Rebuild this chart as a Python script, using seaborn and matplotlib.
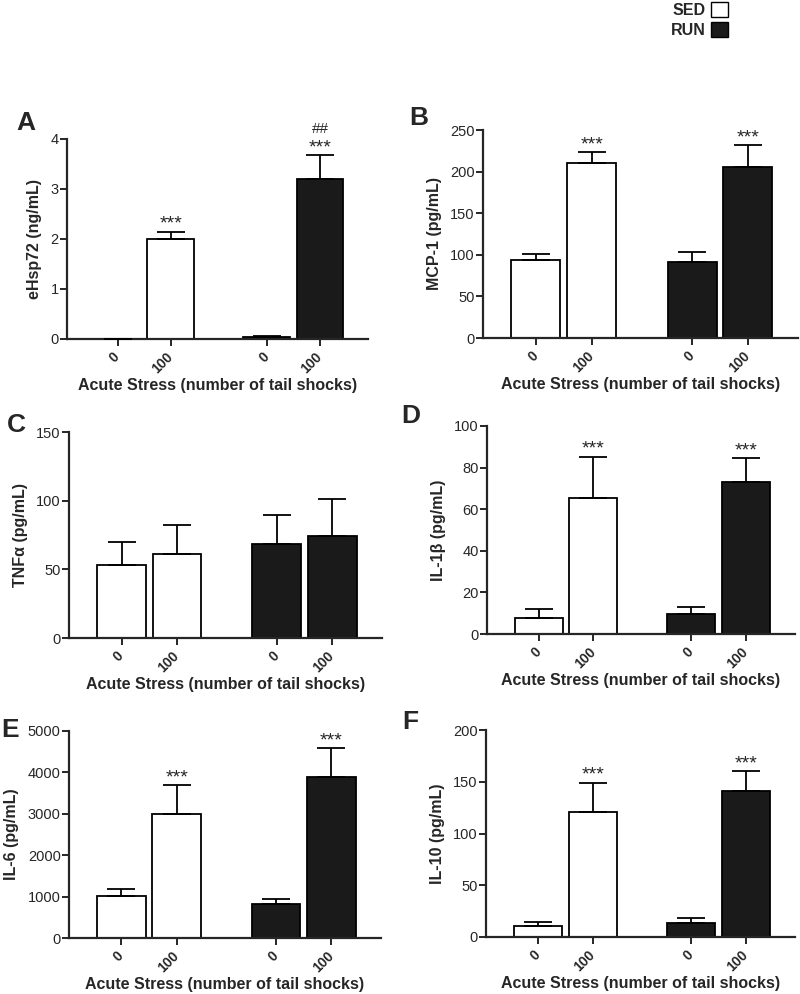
import numpy as np
import pandas as pd
import seaborn as sns
import matplotlib.pyplot as plt
from matplotlib.patches import Patch

sns.set_style("ticks")
plt.rcParams['font.family'] = ['Liberation Sans', 'DejaVu Sans']

# bar order: SED 0, SED 100, RUN 0, RUN 100
groups = ['SED', 'SED', 'RUN', 'RUN']
shock_labels = ['0', '100', '0', '100']
positions = [0, 1, 2.8, 3.8]

hsp72 = [0.01, 2.0, 0.04, 3.2]
hsp72_sem = [0.0, 0.15, 0.02, 0.48]
mcp1 = [93.5, 210, 91, 206]
mcp1_sem = [8, 13, 12.5, 25.5]
tnfa = [53, 61.5, 68.7, 74.3]
tnfa_sem = [17, 20.5, 20.5, 26.7]
il1b = [7.9, 65.2, 9.8, 73.2]
il1b_sem = [4.1, 20.1, 3.2, 11.6]
il6 = [1023, 2987, 829, 3889]
il6_sem = [169, 709, 113, 708]
il10 = [10.6, 120.6, 13.5, 141.5]
il10_sem = [4.2, 28.6, 4.5, 18.9]

stars_a = ['', '***', '', '***']
hash_a = ['', '', '', '##']
stars_b = ['', '***', '', '***']
stars_c = ['', '', '', '']
stars_d = ['', '***', '', '***']
stars_e = ['', '***', '', '***']
stars_f = ['', '***', '', '***']

palette = {'SED': 'white', 'RUN': '#1a1a1a'}

panels = [
    # letter, values, sem, ylabel, ymax, ystep, stars, hashes, axes rect (px), letter xy (px)
    ('A', hsp72, hsp72_sem, 'eHsp72 (ng/mL)', 4, 1, stars_a, hash_a, (67, 368, 139, 339), (16, 123)),
    ('B', mcp1, mcp1_sem, 'MCP-1 (pg/mL)', 250, 50, stars_b, None, (483, 798, 130, 338), (409, 118)),
    ('C', tnfa, tnfa_sem, 'TNF\u03b1 (pg/mL)', 150, 50, stars_c, None, (69, 382, 432, 638), (7, 425)),
    ('D', il1b, il1b_sem, 'IL-1\u03b2 (pg/mL)', 100, 20, stars_d, None, (487, 795, 426, 634), (401, 416)),
    ('E', il6, il6_sem, 'IL-6 (pg/mL)', 5000, 1000, stars_e, None, (69, 381, 731, 938), (1, 730)),
    ('F', il10, il10_sem, 'IL-10 (pg/mL)', 200, 50, stars_f, None, (486, 795, 730, 937), (402, 722)),
]

W, H = 800, 994
fig = plt.figure(figsize=(W / 100, H / 100), dpi=100)

for letter, vals, sem, ylabel, ymax, ystep, stars, hashes, rect, lxy in panels:
    l, r, t, b = rect
    ax = fig.add_axes([l / W, 1 - b / H, (r - l) / W, (b - t) / H])
    df = pd.DataFrame({'pos': positions, 'value': vals, 'group': groups})
    sns.barplot(data=df, x='pos', y='value', hue='group', palette=palette,
                native_scale=True, dodge=False, width=0.88, edgecolor='black',
                linewidth=1.3, errorbar=None, legend=False, ax=ax, zorder=2)
    ax.errorbar(positions, vals, yerr=[np.zeros(4), sem], fmt='none',
                ecolor='black', elinewidth=1.3, capsize=10, capthick=1.3, zorder=3)
    for i, (x, v, e) in enumerate(zip(positions, vals, sem)):
        if stars[i]:
            ax.annotate(stars[i], xy=(x, v + e), xytext=(0, -1), textcoords='offset points',
                        ha='center', va='bottom', fontsize=14, annotation_clip=False)
        if hashes and hashes[i]:
            ax.annotate(hashes[i], xy=(x, v + e), xytext=(0, 14), textcoords='offset points',
                        ha='center', va='bottom', fontsize=11, annotation_clip=False)

    ax.set_xlim(-0.95, 4.7)
    ax.set_ylim(0, ymax)
    ax.set_yticks(np.arange(0, ymax + ystep / 2, ystep))
    ax.set_xticks(positions)
    ax.set_xticklabels(shock_labels, rotation=45, ha='right', va='center',
                       rotation_mode='anchor', fontweight='bold', fontsize=10)
    ax.tick_params(axis='y', labelsize=10.5, width=1.4, length=5, pad=1)
    ax.tick_params(axis='x', width=1.4, length=5, pad=6)
    for s in ['left', 'bottom']:
        ax.spines[s].set_linewidth(1.6)
    sns.despine(ax=ax)
    ax.set_xlabel('Acute Stress (number of tail shocks)', fontsize=11.5, fontweight='bold', labelpad=2)
    ax.set_ylabel(ylabel, fontsize=11.5, fontweight='bold', labelpad=6)
    fig.text(lxy[0] / W, 1 - lxy[1] / H, letter, fontsize=19, fontweight='bold',
             ha='left', va='center')

handles = [Patch(facecolor='white', edgecolor='black', linewidth=1),
           Patch(facecolor='#1a1a1a', edgecolor='black', linewidth=1)]
fig.legend(handles=handles, labels=['SED', 'RUN'], loc='upper right',
           bbox_to_anchor=(730 / W, 1.0), frameon=False, markerfirst=False,
           prop={'weight': 'bold', 'size': 11.5}, handlelength=1.1, handleheight=1.1,
           handletextpad=0.3, labelspacing=0.25, borderpad=0.1, borderaxespad=0)

fig.savefig('out.png', dpi=100)
